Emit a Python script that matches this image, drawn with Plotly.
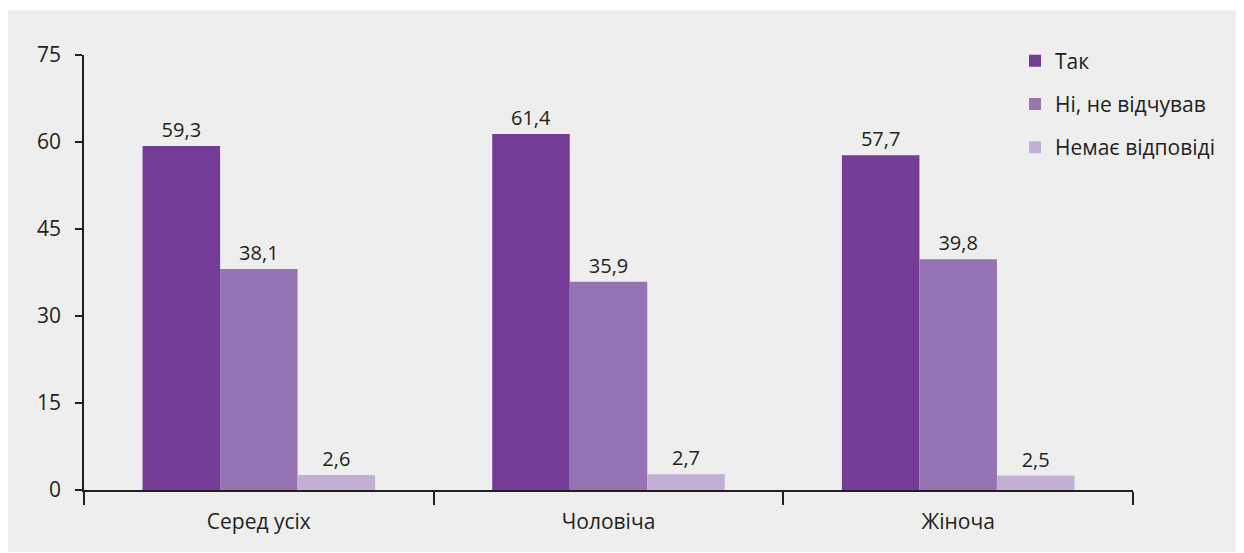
import plotly.graph_objects as go

categories = ["Серед усіх", "Чоловіча", "Жіноча"]
series_names = ["Так", "Ні, не відчував", "Немає відповіді"]
tak = [59.3, 61.4, 57.7]
ni = [38.1, 35.9, 39.8]
nemaye = [2.6, 2.7, 2.5]
y_ticks = [0, 15, 30, 45, 60, 75]

colors = ["#743C96", "#9673B2", "#C4AFD6"]
FONT = "Open Sans"

# page is offset by the browser's 8px body margin
OFF = 8
W, H = 1244, 553
L = 84 - OFF
T = 54.5 - OFF
xr_px = 1133 - OFF
yb_px = 490 - OFF
R = W - xr_px
B = H - yb_px
pw, ph = W - L - R, H - T - B

fig = go.Figure()
for i, (name, vals) in enumerate(zip(series_names, [tak, ni, nemaye])):
    fig.add_trace(go.Bar(
        x=categories, y=vals, name=name,
        marker=dict(color=colors[i], line=dict(width=0)),
        text=[f"{v:.1f}".replace(".", ",") for v in vals],
        textposition="outside", cliponaxis=False,
        textfont=dict(family=FONT, size=20, color="#231F20"),
        legendgroup=f"g{i}",
    ))

def px2paper_x(px):
    return (px - OFF - L) / pw

def px2paper_y(py):
    return (yb_px - (py - OFF)) / ph

fig.add_shape(type="rect", xref="paper", yref="paper",
              x0=px2paper_x(8), x1=px2paper_x(1260),
              y0=px2paper_y(552), y1=px2paper_y(10),
              fillcolor="#EEEEEE", line=dict(width=0), layer="below")

fig.update_layout(
    width=W, height=H,
    margin=dict(l=L, r=R, t=T, b=B, pad=0),
    paper_bgcolor="white", plot_bgcolor="#EEEEEE",
    barmode="group", bargap=0.335, bargroupgap=0,
    font=dict(family=FONT, size=21, color="#231F20"),
    showlegend=True,
    legend=dict(x=px2paper_x(1015), y=px2paper_y(40), xanchor="left", yanchor="top",
                bgcolor="rgba(0,0,0,0)", font=dict(size=21, family=FONT),
                tracegroupgap=13, itemclick=False),
    xaxis=dict(showline=True, linecolor="#231F20", linewidth=1.5,
               ticks="outside", tickson="boundaries", ticklen=13, tickwidth=1.5,
               tickcolor="#231F20", showgrid=False, zeroline=False,
               ticklabelstandoff=12,
               tickfont=dict(size=21, family=FONT)),
    yaxis=dict(range=[0, 75], tickvals=y_ticks, showline=True, linecolor="#231F20",
               linewidth=1.5, ticks="outside", ticklen=7, tickwidth=1.5,
               tickcolor="#231F20", showgrid=False, zeroline=False,
               ticklabelstandoff=10,
               tickfont=dict(size=21, family=FONT)),
)

fig.write_html("out.html")
